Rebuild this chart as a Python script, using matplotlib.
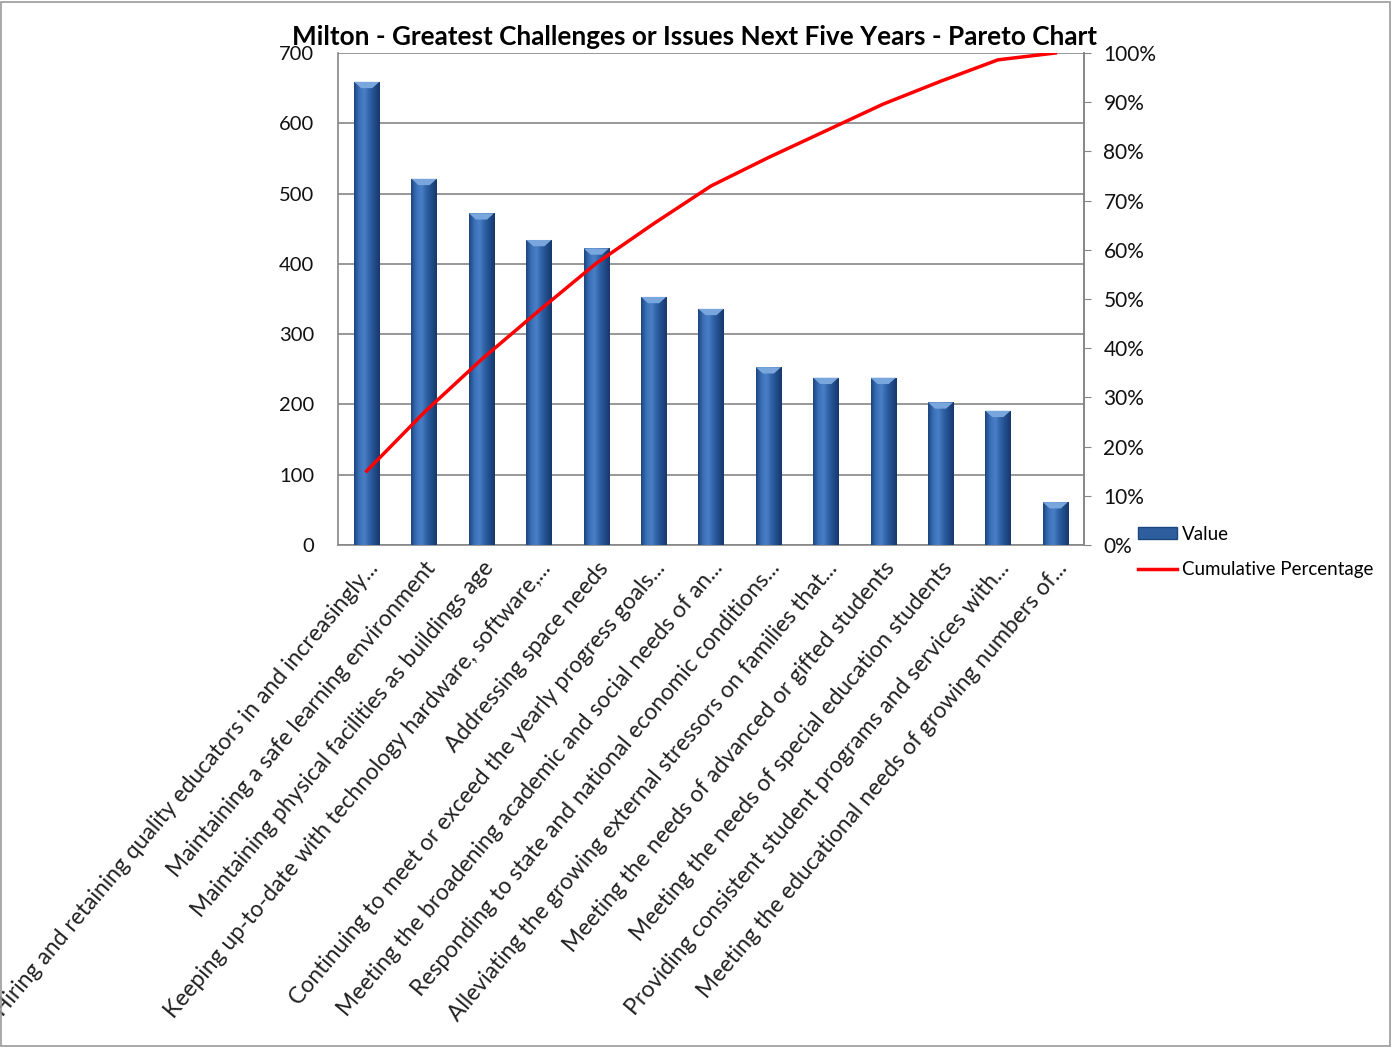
import matplotlib
matplotlib.use("Agg")
import matplotlib.pyplot as plt
import matplotlib.patches as patches
import matplotlib.transforms as mtransforms
from matplotlib.colors import LinearSegmentedColormap
from matplotlib.ticker import FuncFormatter
import numpy as np

plt.rcParams['font.family'] = ['Lato', 'DejaVu Sans']

# Data
categories = [
    "Hiring and retaining quality educators in and increasingly...",
    "Maintaining a safe learning environment",
    "Maintaining physical facilities as buildings age",
    "Keeping up-to-date with technology hardware, software,...",
    "Addressing space needs",
    "Continuing to meet or exceed the yearly progress goals...",
    "Meeting the broadening academic and social needs of an...",
    "Responding to state and national economic conditions...",
    "Alleviating the growing external stressors on families that...",
    "Meeting the needs of advanced or gifted students",
    "Meeting the needs of special education students",
    "Providing consistent student programs and services with...",
    "Meeting the educational needs of growing numbers of...",
]
values = [659, 521, 472, 434, 422, 353, 336, 253, 238, 238, 203, 191, 61]

cum_pct = np.cumsum(values) / np.sum(values) * 100

fig = plt.figure(figsize=(13.91, 10.47), dpi=100)
ax = fig.add_axes([338/1391, 1 - 545/1047, (1084 - 338)/1391, (545 - 53)/1047])

x = np.arange(len(categories))
bars = ax.bar(x, values, width=0.44, color='#2E5E9E', zorder=3)

# cylinder-like shading on each bar
cmap = LinearSegmentedColormap.from_list(
    'cyl', ['#1D457E', '#3A70B8', '#4A80C6', '#2F62A6', '#214C8A', '#18386A'])
grad = np.linspace(0, 1, 64).reshape(1, -1)
for b in bars:
    x0, y0 = b.get_x(), b.get_y()
    w, h = b.get_width(), b.get_height()
    im = ax.imshow(grad, extent=[x0, x0 + w, y0, y0 + h], aspect='auto',
                   cmap=cmap, zorder=3.5, interpolation='bicubic')
    im.set_clip_path(b)
    cap = patches.Polygon([[x0, y0 + h], [x0 + w, y0 + h],
                           [x0 + w * 0.72, y0 + h - 9], [x0 + w * 0.28, y0 + h - 9]],
                          closed=True, facecolor='#7AA6DE', edgecolor='none', zorder=4)
    ax.add_patch(cap)

ax.set_xlim(-0.5, len(categories) - 0.5)
ax.set_ylim(0, 700)
ax.set_yticks(np.arange(0, 701, 100))
ax.yaxis.grid(True, color='#868686', lw=1.2, zorder=0)
ax.set_axisbelow(True)
ax.tick_params(axis='y', labelsize=14.5, length=0, pad=17, labelcolor='#111111')
ax.tick_params(axis='x', length=0, pad=14)
ax.set_xticks(x)
ax.set_xticklabels(categories, rotation=50, ha='right', va='center',
                   rotation_mode='anchor', fontsize=16.5, color='#222222')
shift = mtransforms.ScaledTranslation(8/100, 0, fig.dpi_scale_trans)
for lab in ax.get_xticklabels():
    lab.set_transform(lab.get_transform() + shift)
for s in ['top']:
    ax.spines[s].set_visible(False)
for s in ['left', 'bottom', 'right']:
    ax.spines[s].set_color('#868686')
    ax.spines[s].set_linewidth(1.2)

ax2 = ax.twinx()
line, = ax2.plot(x, cum_pct, color='#FF0000', lw=2.5, zorder=5)
ax2.set_ylim(0, 100)
ax2.set_yticks(np.arange(0, 101, 10))
ax2.yaxis.set_major_formatter(FuncFormatter(lambda v, p: f"{v:.0f}%"))
ax2.tick_params(axis='y', labelsize=15, length=5, color='#868686', pad=9, labelcolor='#111111')
for s in ['top', 'left', 'bottom']:
    ax2.spines[s].set_visible(False)
ax2.spines['right'].set_color('#868686')
ax2.spines['right'].set_linewidth(1.2)

fig.text(695/1391, 1 - 37/1047, "Milton - Greatest Challenges or Issues Next Five Years - Pareto Chart",
         ha='center', va='center', fontsize=18.8, fontweight='bold')

bar_handle = patches.Patch(facecolor='#2E5E9E', edgecolor='#1D457E')
fig.legend([bar_handle, line], ['Value', 'Cumulative Percentage'],
           loc='upper left', bbox_to_anchor=(1130/1391, 1 - 518/1047),
           frameon=False, fontsize=13.5, handlelength=2.1, handleheight=0.55,
           handletextpad=0.25, labelspacing=1.0, borderaxespad=0)

fig.patches.append(patches.Rectangle((0.0008, 0.001), 0.9984, 0.997, transform=fig.transFigure,
                                     fill=False, edgecolor='#9A9A9A', lw=1.2))

fig.savefig('out.png', dpi=100)
